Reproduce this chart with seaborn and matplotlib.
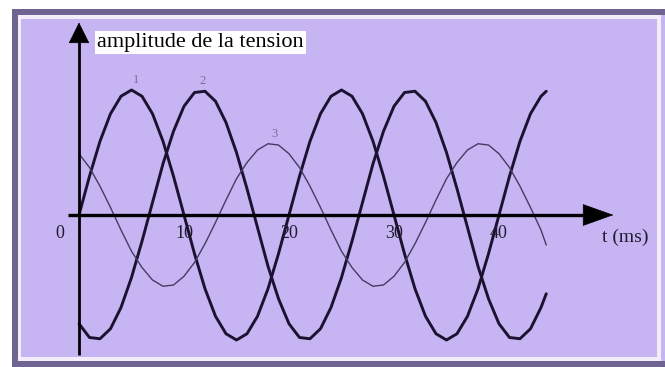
import matplotlib
matplotlib.use("Agg")
import matplotlib.pyplot as plt
from matplotlib.patches import Rectangle
import pandas as pd
import seaborn as sns

# time samples (ms)
t_ms = [0, 1, 2, 3, 4, 5, 6, 7, 8, 9,
        10, 11, 12, 13, 14, 15, 16, 17, 18, 19,
        20, 21, 22, 23, 24, 25, 26, 27, 28, 29,
        30, 31, 32, 33, 34, 35, 36, 37, 38, 39,
        40, 41, 42, 43, 44, 44.5]

# voltage amplitudes (relative units)
tension_1 = [0.00, 0.31, 0.59, 0.81, 0.95, 1.00, 0.95, 0.81, 0.59, 0.31,
             0.00, -0.31, -0.59, -0.81, -0.95, -1.00, -0.95, -0.81, -0.59, -0.31,
             0.00, 0.31, 0.59, 0.81, 0.95, 1.00, 0.95, 0.81, 0.59, 0.31,
             0.00, -0.31, -0.59, -0.81, -0.95, -1.00, -0.95, -0.81, -0.59, -0.31,
             0.00, 0.31, 0.59, 0.81, 0.95, 0.99]
tension_2 = [-0.87, -0.98, -0.99, -0.91, -0.74, -0.50, -0.21, 0.10, 0.41, 0.67,
             0.87, 0.98, 0.99, 0.91, 0.74, 0.50, 0.21, -0.10, -0.41, -0.67,
             -0.87, -0.98, -0.99, -0.91, -0.74, -0.50, -0.21, 0.10, 0.41, 0.67,
             0.87, 0.98, 0.99, 0.91, 0.74, 0.50, 0.21, -0.10, -0.41, -0.67,
             -0.87, -0.98, -0.99, -0.91, -0.74, -0.63]
tension_3 = [0.49, 0.38, 0.23, 0.06, -0.12, -0.29, -0.42, -0.52, -0.57, -0.56,
             -0.49, -0.38, -0.23, -0.06, 0.12, 0.29, 0.42, 0.52, 0.57, 0.56,
             0.49, 0.38, 0.23, 0.06, -0.12, -0.29, -0.42, -0.52, -0.57, -0.56,
             -0.49, -0.38, -0.23, -0.06, 0.12, 0.29, 0.42, 0.52, 0.57, 0.56,
             0.49, 0.38, 0.23, 0.06, -0.12, -0.24]

tick_values = [10, 20, 30, 40]
tick_labels = ["10", "20", "30", "40"]
curve_names = ["1", "2", "3"]
peak_times = [5.4, 11.8, 18.6]
peak_levels = [1.00, 0.99, 0.57]

sns.set_style("white")
plt.rcParams["font.family"] = ["Liberation Serif", "DejaVu Serif"]

W, H = 665, 367
fig = plt.figure(figsize=(W / 100, H / 100), dpi=100, facecolor="white")

BORDER = "#6f6392"
PURPLE = "#c7b5f3"
INK = "#221a30"


def px_rect(x0, y0, x1, y1, color, z):
    fig.patches.append(Rectangle((x0 / W, 1 - y1 / H), (x1 - x0) / W, (y1 - y0) / H,
                                 transform=fig.transFigure, facecolor=color,
                                 edgecolor="none", zorder=z))


# picture frame (kept below the axes)
px_rect(12, 9, 665, 367, BORDER, -3)
px_rect(18, 15, 661, 361, "#f4eefc", -2)
px_rect(21, 19, 657, 357, PURPLE, -1)
px_rect(661, 15, 665, 361, PURPLE, -1)

# plotting area: origin at pixel (79, 215), 10.5 px per ms, 125 px per unit
ax_l, ax_r, ax_t, ax_b = 21, 657, 19, 357
x0px, sx, y0px, sy = 79, 10.5, 215, 125
ax = fig.add_axes([ax_l / W, 1 - ax_b / H, (ax_r - ax_l) / W, (ax_b - ax_t) / H])
ax.set_xlim((ax_l - x0px) / sx, (ax_r - x0px) / sx)
ax.set_ylim(-(ax_b - y0px) / sy, (y0px - ax_t) / sy)
ax.set_axis_off()

df = pd.DataFrame({
    "t": t_ms * 3,
    "u": tension_1 + tension_2 + tension_3,
    "courbe": ["1"] * len(t_ms) + ["2"] * len(t_ms) + ["3"] * len(t_ms),
})
sns.lineplot(data=df, x="t", y="u", hue="courbe", size="courbe",
             palette={"1": "#1b1230", "2": "#1b1230", "3": "#463a63"},
             sizes={"1": 2.1, "2": 2.1, "3": 1.0},
             estimator=None, sort=False, legend=False, ax=ax, zorder=4)

# axes with arrowheads
ax.plot([-1.05, 50.0], [0, 0], color="black", lw=2.4, zorder=5, solid_capstyle="butt")
ax.annotate("", xy=(50.9, 0), xytext=(48.0, 0),
            arrowprops=dict(arrowstyle="-|>,head_length=2.1,head_width=0.75",
                            mutation_scale=10, color="black", lw=0.5,
                            shrinkA=0, shrinkB=0), zorder=6)
ax.plot([0, 0], [-1.12, 1.40], color="black", lw=2.0, zorder=5, solid_capstyle="butt")
ax.annotate("", xy=(0, 1.54), xytext=(0, 1.35),
            arrowprops=dict(arrowstyle="-|>,head_length=1.4,head_width=0.7",
                            mutation_scale=10, color="black", lw=0.5,
                            shrinkA=0, shrinkB=0), zorder=6)

# tick labels
ax.text(-1.8, -0.15, "0", ha="center", va="center", fontsize=13, color=INK, zorder=7)
for v, lab in zip(tick_values, tick_labels):
    ax.text(v, -0.15, lab, ha="center", va="center", fontsize=13,
            color=INK, zorder=7)
ax.text(52.0, -0.18, "t (ms)", ha="center", va="center", fontsize=14,
        color=INK, zorder=7)

# y-axis title on a white box
ax.text(1.75, 1.38, "amplitude de la tension", ha="left", va="center", fontsize=16,
        color="black", zorder=7,
        bbox=dict(boxstyle="square,pad=0.1", facecolor="white", edgecolor="none"))

# curve numbers above their first peaks
for name, tp, lv in zip(curve_names, peak_times, peak_levels):
    ax.text(tp, lv + 0.03, name, ha="center", va="bottom", fontsize=9,
            color="#7a6a9c", zorder=7)

fig.savefig("out.png", dpi=100, facecolor="white")
